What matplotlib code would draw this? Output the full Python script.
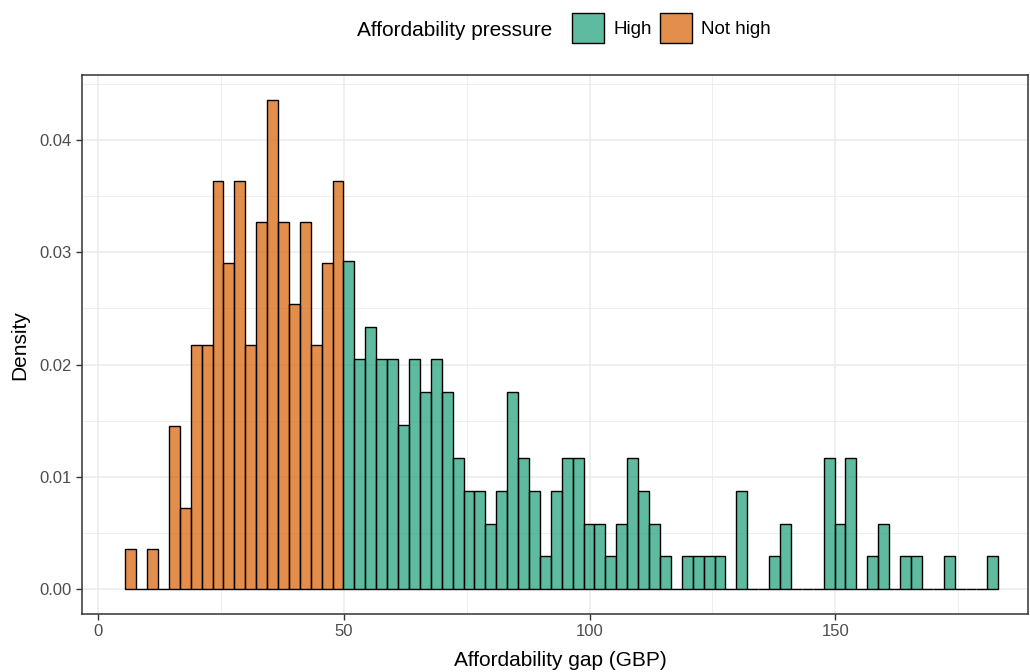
import numpy as np
import matplotlib
matplotlib.use("Agg")
import matplotlib.pyplot as plt
from matplotlib.patches import Patch

plt.rcParams['font.family'] = ['Liberation Sans', 'DejaVu Sans']

# bin layout shared by both groups (80 bins in total)
bin_start = 5.48
bin_width = 2.221

# counts per bin, gap below 50 ("Not high") and 50 and above ("High")
counts_not_high = [1, 0, 1, 0, 4, 2, 6, 6, 10, 8, 10, 6, 9, 12, 9, 7, 9, 6, 8, 10]
counts_high = [10, 7, 8, 7, 7, 5, 7, 6, 7, 6, 4, 3, 3, 2, 3, 6, 4, 3, 1, 3,
               4, 4, 2, 2, 1, 2, 4, 3, 2, 1, 0, 1, 1, 1, 1, 0, 3, 0, 0, 1,
               2, 0, 0, 0, 4, 2, 4, 0, 1, 2, 0, 1, 1, 0, 0, 1, 0, 0, 0, 1]

groups = ["High", "Not high"]
colors = {"High": "#1B9E77", "Not high": "#D95F02"}

x_ticks = [0, 50, 100, 150]
y_ticks = [0.00, 0.01, 0.02, 0.03, 0.04]

n_low = len(counts_not_high)
edges_low = bin_start + bin_width * np.arange(n_low + 1)
edges_high = bin_start + bin_width * (n_low + np.arange(len(counts_high) + 1))

fig = plt.figure(figsize=(10.3, 6.72), dpi=100)
ax = fig.add_axes([0.0793, 0.0863, 0.9187, 0.8015])

# density is computed within each group, like ggplot's after_stat(density)
for cnt, edges, grp in [(counts_not_high, edges_low, "Not high"),
                        (counts_high, edges_high, "High")]:
    centers = (edges[:-1] + edges[1:]) / 2
    ax.hist(centers, bins=edges, weights=cnt, density=True,
            facecolor=matplotlib.colors.to_rgba(colors[grp], 0.7),
            edgecolor="black", linewidth=1.0, zorder=3)

ax.set_xlim(-3.38, 189.2)
ax.set_ylim(-0.0022, 0.04575)

ax.set_xticks(x_ticks)
ax.set_xticklabels([str(v) for v in x_ticks])
ax.set_xticks([25, 75, 125, 175], minor=True)
ax.set_yticks(y_ticks)
ax.set_yticklabels([f"{v:.2f}" for v in y_ticks])
ax.set_yticks(np.arange(0.005, 0.046, 0.01), minor=True)

ax.grid(True, which="major", color="#EBEBEB", linewidth=1.1, zorder=0)
ax.grid(True, which="minor", color="#EBEBEB", linewidth=0.6, zorder=0)
ax.set_axisbelow(True)

ax.tick_params(axis="both", which="major", length=4, width=1.0, color="#333333",
               labelcolor="#4D4D4D", labelsize=12, pad=3)
ax.tick_params(axis="both", which="minor", length=0)
for sp in ax.spines.values():
    sp.set_color("#333333")
    sp.set_linewidth(1.1)

fig.text(560 / 1030, 1 - 660 / 672, "Affordability gap (GBP)", ha="center", va="center",
         fontsize=15, color="black")
fig.text(19.5 / 1030, 1 - 344.7 / 672, "Density", ha="center", va="center",
         rotation=90, fontsize=15, color="black")

# legend on top: title to the left of the keys
fig.text(357 / 1030, 1 - 31 / 672, "Affordability pressure", ha="left", va="center",
         fontsize=15, color="black")
handles = [Patch(facecolor=matplotlib.colors.to_rgba(colors[g], 0.7), edgecolor="black",
                 linewidth=1.0) for g in groups]
fig.legend(handles, groups, loc="center left", bbox_to_anchor=(572 / 1030, 1 - 28 / 672),
           ncol=2, frameon=False, fontsize=13.5, handlelength=1.71, handleheight=2.1,
           handletextpad=0.5, columnspacing=0.42, borderpad=0, borderaxespad=0)

fig.savefig("out.png", dpi=100)
